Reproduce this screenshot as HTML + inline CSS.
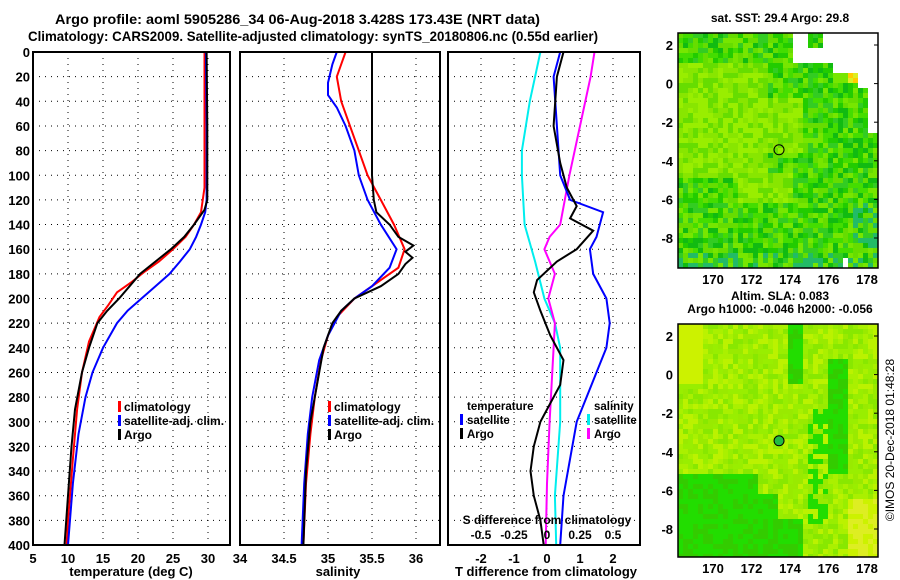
<!DOCTYPE html>
<html><head><meta charset="utf-8"><style>
body{margin:0;background:#fff;}
svg{display:block;font-family:"Liberation Sans",sans-serif;font-weight:bold;}
</style></head><body>
<svg id="c" width="900" height="580" viewBox="0 0 900 580" xmlns="http://www.w3.org/2000/svg">
<text x="55" y="24" font-size="14" textLength="485" lengthAdjust="spacingAndGlyphs">Argo profile: aoml 5905286_34 06-Aug-2018 3.428S 173.43E (NRT data)</text>
<text x="28" y="41" font-size="14" textLength="570" lengthAdjust="spacingAndGlyphs">Climatology: CARS2009. Satellite-adjusted climatology: synTS_20180806.nc (0.55d earlier)</text>
<g id="g"></g>
</svg>
<script>
// ---- data (depth in m) ----
const depthTicks=[0,20,40,60,80,100,120,140,160,180,200,220,240,260,280,300,320,340,360,380,400];
const tTicks=[5,10,15,20,25,30];
const sTicks=[34,34.5,35,35.5,36];
const dTTicks=[-2,-1,0,1,2];
const dSTicks=[-0.5,-0.25,0,0.25,0.5];
const dSTickLabels=["-0.5","-0.25","0","0.25","0.5"];
const lonTicks=[170,172,174,176,178];
const latTicks=[2,0,-2,-4,-6,-8];

const tClimD=[0,50,110,130,140,150,160,170,178,187,195,205,215,235,260,290,330,380,400];
const tClim=[29.5,29.5,29.5,29.0,28.0,26.8,25.0,23.0,21.0,19.0,17.0,15.8,14.5,13.0,12.0,11.3,10.7,10.0,9.8];
const tSatD=[0,60,120,130,140,150,160,170,180,190,200,210,220,240,260,280,310,350,400];
const tSat=[29.7,29.8,29.8,29.6,29.0,28.3,27.4,26.0,24.5,22.5,20.5,18.5,17.0,15.0,13.5,12.5,11.5,10.7,10.0];
const tArgoD=[0,60,120,128,140,150,160,170,180,190,200,210,220,240,260,290,320,360,400];
const tArgo=[29.8,29.9,29.9,29.5,28.0,26.6,24.7,22.5,20.3,18.8,17.3,15.6,14.2,13.0,12.0,11.0,10.5,10.0,9.5];

const sClimD=[0,10,20,40,60,80,100,120,140,160,175,185,200,215,230,250,280,310,350,400];
const sClim=[35.2,35.15,35.1,35.15,35.25,35.35,35.45,35.6,35.75,35.87,35.8,35.6,35.3,35.1,35.0,34.92,34.85,34.8,34.75,34.72];
const sSatD=[0,10,25,35,45,60,80,100,120,140,160,175,190,200,210,230,250,280,310,350,400];
const sSat=[35.1,35.05,35.0,35.0,35.1,35.2,35.3,35.35,35.45,35.6,35.78,35.7,35.5,35.3,35.15,35.0,34.9,34.82,34.77,34.73,34.7];
const sArgoD=[0,40,100,120,130,140,150,157,162,167,172,180,190,200,210,220,240,260,280,300,340,400];
const sArgo=[35.5,35.5,35.5,35.52,35.55,35.7,35.8,35.97,35.88,35.96,35.88,35.8,35.6,35.3,35.15,35.05,34.95,34.9,34.85,34.8,34.75,34.72];

const dtSatD=[0,20,60,100,120,130,150,160,180,200,220,240,260,280,300,330,360,400];
const dtSat=[0.4,0.2,0.3,0.4,0.7,1.7,1.5,1.3,1.4,1.8,1.9,1.8,1.5,1.2,0.9,0.7,0.5,0.4];
const dtArgoD=[0,20,60,90,110,125,135,145,160,170,185,195,210,230,250,270,300,320,340,360,380,400];
const dtArgo=[0.5,0.3,0.2,0.4,0.6,0.9,0.7,1.4,0.9,0.3,-0.3,-0.4,-0.2,0.1,0.5,0.4,-0.2,-0.4,-0.5,-0.4,-0.2,-0.1];
const dsSatD=[0,40,80,100,140,170,200,220,240,300,360,400];
const dsSat=[-0.05,-0.13,-0.19,-0.19,-0.17,-0.09,-0.02,0.06,0.1,0.1,0.06,0.07];
const dsArgoD=[0,20,60,100,140,150,160,180,200,220,240,300,350,400];
const dsArgo=[0.36,0.33,0.25,0.17,0.1,0.02,-0.02,0.06,0.01,0.06,0.05,0.02,0.0,-0.01];

const argoLon=173.43, argoLat=-3.428;

// ---- drawing ----
const NS="http://www.w3.org/2000/svg";
const G=document.getElementById('g');
function el(t,a,p){const e=document.createElementNS(NS,t);for(const k in a)e.setAttribute(k,a[k]);(p||G).appendChild(e);return e;}
const Y0=52,Y1=545;
const yD=d=>Y0+d*(Y1-Y0)/400;
function lin(d0,d1,r0,r1){return v=>r0+(v-d0)*(r1-r0)/(d1-d0);}

function panel(name,x0,x1,xs,ticks,labels,showDepth){
  const g=el('g',{});
  
  
  depthTicks.forEach(d=>{
    if(d>0&&d<400){const l=el('line',{x1:x0,x2:x1,y1:yD(d),y2:yD(d),stroke:'#000','stroke-dasharray':'1,5','stroke-width':1},g);
    }
    if(showDepth){const t=el('text',{x:x0-3,y:yD(d)+5,'font-size':13,'text-anchor':'end'},g);t.textContent=d;
    }
  });
  ticks.forEach((v,i)=>{const x=xs(v);
    if(x>x0+1&&x<x1-1){const l=el('line',{x1:x,x2:x,y1:Y0,y2:Y1,stroke:'#000','stroke-dasharray':'1,5'},g);
    }
    if(labels){const t=el('text',{x:x,y:563,'font-size':13,'text-anchor':'middle'},g);t.textContent=labels[i];
    }
  });
  return g;
}
function frame(g,x0,x1){const r=el('rect',{x:x0,y:Y0,width:x1-x0,height:Y1-Y0,fill:'none',stroke:'#000','stroke-width':2},g);
  }
function line(g,name,xs,vals,ds,col){
  const pts=vals.map((v,i)=>xs(v).toFixed(1)+','+yD(ds[i]).toFixed(1)).join(' ');
  const p=el('polyline',{points:pts,fill:'none',stroke:col,'stroke-width':2},g);
  
}
function txt(g,name,x,y,s,fs,anchor,col){const t=el('text',{x:x,y:y,'font-size':fs||12,'text-anchor':anchor||'start',fill:col||'#000'},g);t.textContent=s;
  return t;}
function legMark(g,x,y,col){const r=el('rect',{x:x,y:y-10,width:3,height:11,fill:col},g);
  }

// temperature panel
const xT=lin(5,30,33,208);
let g1=panel('temperature-panel',33,230,xT,tTicks,tTicks.map(String),true);
line(g1,'temp-climatology-line',xT,tClim,tClimD,'#f00');
line(g1,'temp-satellite-line',xT,tSat,tSatD,'#00f');
line(g1,'temp-argo-line',xT,tArgo,tArgoD,'#000');
frame(g1,33,230);
txt(g1,'x-axis-title-temperature',131,576,'temperature (deg C)',13,'middle');
[['climatology','#f00'],['satellite-adj. clim.','#00f'],['Argo','#000']].forEach((e,i)=>{legMark(g1,118,411+i*14,e[1]);txt(g1,'legend-entry',124,411+i*14,e[0],12);});

// salinity panel
const xS=lin(34,36,240,416);
let g2=panel('salinity-panel',240,440,xS,sTicks,sTicks.map(String),false);
line(g2,'sal-climatology-line',xS,sClim,sClimD,'#f00');
line(g2,'sal-satellite-line',xS,sSat,sSatD,'#00f');
line(g2,'sal-argo-line',xS,sArgo,sArgoD,'#000');
frame(g2,240,440);
txt(g2,'x-axis-title-salinity',338,576,'salinity',13,'middle');
[['climatology','#f00'],['satellite-adj. clim.','#00f'],['Argo','#000']].forEach((e,i)=>{legMark(g2,328,411+i*14,e[1]);txt(g2,'legend-entry',334,411+i*14,e[0],12);});

// difference panel
const xDT=lin(0,1,547,580);
const xDS=lin(0,0.25,547,580);
let g3=panel('difference-panel',448,640,xDT,dTTicks,dTTicks.map(String),false);
line(g3,'dS-satellite-line',xDS,dsSat,dsSatD,'#0ee');
line(g3,'dS-argo-line',xDS,dsArgo,dsArgoD,'#f0f');
line(g3,'dT-satellite-line',xDT,dtSat,dtSatD,'#00f');
line(g3,'dT-argo-line',xDT,dtArgo,dtArgoD,'#000');
frame(g3,448,640);
txt(g3,'x-axis-title-T-diff',546,576,'T difference from climatology',13,'middle');
txt(g3,'S-diff-axis-title',547,524,'S difference from climatology',12,'middle');
dSTicks.forEach((v,i)=>txt(g3,'S-diff-tick-label',xDS(v),539,dSTickLabels[i],12,'middle'));
txt(g3,'legend-title-temperature',467,410,'temperature',11.5);
legMark(g3,460,424,'#00f');txt(g3,'legend-entry',467,424,'satellite',11.5);
legMark(g3,460,438,'#000');txt(g3,'legend-entry',467,438,'Argo',11.5);
txt(g3,'legend-title-salinity',594,410,'salinity',11.5);
legMark(g3,587,424,'#0ee');txt(g3,'legend-entry',594,424,'satellite',11.5);
legMark(g3,587,438,'#f0f');txt(g3,'legend-entry',594,438,'Argo',11.5);

// maps
function map(name,top,bot,title1,title2,kind){
  const g=el('g',{});
  const x0=678,x1=878;
  const lonX=lin(170,178,713,867);
  const lat2=top+12, latY=lin(2,-8,lat2,lat2+193);
  const cols=kind==='sst'?['#22cc00','#44dd00','#11bb11','#77e600','#33cc22','#66dd00']:['#99ee00','#aaf000','#88e800','#99ea00','#bbf200'];
  const cw=5, ch=5;
  for(let y=top;y<bot;y+=ch)for(let x=x0;x<x1;x+=cw){
    let h=((x*73856093)^(y*19349663))>>>0; h=(h%997)/997;
    let c=null;
    if(kind==='sst'){
      const white=(x>=792&&y<63&&!(x>=807&&x<822&&y<47))||(x>=830&&y<72)||(x>=857&&y<88)||(x>=868&&y<130)||(x>=875&&y<148)||(x>=840&&x<846&&y>=255);
      if(white)c='#fff';
      else if(y>=63&&y<80&&x>=847&&x<862)c=h<0.5?'#ffcc00':'#ddee22';
      else{
        const yel=(x<765&&y>=60&&y<175)||(x>=765&&x<800&&y>=95&&y<150)||(x>=735&&x<790&&y>=170&&y<200);
        c=yel?(h<0.35?'#99ee00':(h<0.7?'#88e600':'#66dd00')):cols[Math.floor(h*cols.length)];
        if(y>250&&h<0.4)c='#22bb66';
        if(x>850&&y>200&&h<0.4)c='#22bb66';
      }
    } else {
      const ry=y-top;
      const green=(x<755&&ry>145)||(x<775&&ry>165)||(x<800&&ry>190)||(x>=785&&x<802&&ry<60)||(x>=828&&x<845&&ry>30&&ry<150)||(x>=805&&x<825&&ry>80&&ry<200&&h<0.5);
      c=green?(h<0.6?'#22dd00':'#33cc00'):cols[Math.floor(h*cols.length)];
      if(x<700&&ry<60)c='#ccf200';
      if(x>845&&ry>170)c=h<0.5?'#ccf200':'#ddee22';
    }
    el('rect',{x:x,y:y,width:Math.min(cw,x1-x),height:Math.min(ch,bot-y),fill:c},g);
  }
  const r=el('rect',{x:x0,y:top,width:x1-x0,height:bot-top,fill:'none',stroke:'#000','stroke-width':1.5},g);
  
  const cc=el('circle',{cx:lonX(argoLon),cy:latY(argoLat),r:5,fill:kind==='sst'?'none':'#22bb44',stroke:'#000','stroke-width':1},g);
  
  latTicks.forEach(v=>{txt(g,'lat-tick-label',x0-5,latY(v)+5,String(v),13,'end');
    el('line',{x1:x1-4,x2:x1,y1:latY(v),y2:latY(v),stroke:'#000'},g);});
  lonTicks.forEach(v=>{txt(g,'lon-tick-label',lonX(v),bot+16,String(v),13,'middle');});
  txt(g,'map-title',780,top-11-(title2?13:0),title1,12,'middle');
  if(title2)txt(g,'map-title-2',780,top-11,title2,12,'middle');
}
map('sst-map',33,268,'sat. SST: 29.4 Argo: 29.8',null,'sst');
map('sla-map',324,557,'Altim. SLA: 0.083','Argo h1000: -0.046 h2000: -0.056','sla');
const cr=txt(G,'copyright-stamp',0,0,'©IMOS 20-Dec-2018 01:48:28',12,'middle');
cr.setAttribute('font-weight','normal');
cr.setAttribute('transform','translate(894,440) rotate(-90)');
</script>
</body></html>
